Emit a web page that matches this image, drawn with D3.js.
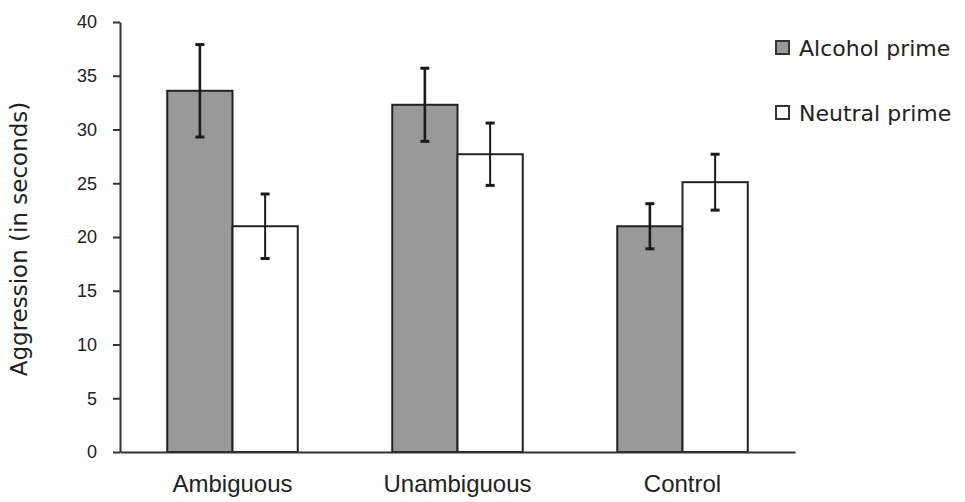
<!DOCTYPE html>
<meta charset="utf-8">
<style>
    body {
        margin: 0;
        background-color: #fff;
    }

    svg {
        display: block;
        font-family: "DejaVu Sans", sans-serif;
    }

    .eixo path,
    .eixo line {
        stroke: #333;
        stroke-width: 2px;
    }

    .eixo text {
        fill: #222;
    }
</style>
<script src="https://cdn.jsdelivr.net/npm/d3@7/dist/d3.min.js"></script>
<svg width="965" height="502"></svg>
<script>
    // condições e grupos
    var condicoes = ["Ambiguous", "Unambiguous", "Control"];
    var primes = ["Alcohol prime", "Neutral prime"];

    // médias (segundos)
    var alcoolMedia = [33.6, 32.3, 21.0];
    var neutroMedia = [21.0, 27.7, 25.1];

    // erro (metade da barra de erro)
    var alcoolErro = [4.3, 3.4, 2.1];
    var neutroErro = [3.0, 2.9, 2.6];

    var yTicks = [0, 5, 10, 15, 20, 25, 30, 35, 40];

    var cores = ["#999999", "#ffffff"];

    var svg = d3.select("svg");
    var margem = { top: 22, right: 170, bottom: 50, left: 120 };
    var width = +svg.attr("width") - margem.left - margem.right,
        height = +svg.attr("height") - margem.top - margem.bottom;

    var g = svg.append("g")
        .attr("transform", "translate(" + margem.left + "," + margem.top + ")");

    var x0 = d3.scaleBand()
        .domain(condicoes)
        .range([0, width])
        .paddingInner(0.42)
        .paddingOuter(0.21);

    var x1 = d3.scaleBand()
        .domain(primes)
        .range([0, x0.bandwidth()]);

    var y = d3.scaleLinear()
        .domain([0, 40])
        .range([height, 0]);

    var dados = condicoes.map(function (c, i) {
        return [
            { cond: c, prime: primes[0], media: alcoolMedia[i], erro: alcoolErro[i] },
            { cond: c, prime: primes[1], media: neutroMedia[i], erro: neutroErro[i] }
        ];
    });

    // eixo y
    g.append("g")
        .attr("class", "eixo")
        .call(d3.axisLeft(y).tickValues(yTicks).tickSize(7).tickPadding(16).tickSizeOuter(0))
        .selectAll("text")
        .style("font-size", "18px");

    var grupo = g.selectAll(".grupo")
        .data(dados)
        .enter().append("g")
        .attr("class", "grupo")
        .attr("transform", function (d) { return "translate(" + x0(d[0].cond) + ",0)"; });

    grupo.selectAll("rect")
        .data(function (d) { return d; })
        .enter().append("rect")
        .attr("x", function (d) { return x1(d.prime); })
        .attr("y", function (d) { return y(d.media); })
        .attr("width", x1.bandwidth())
        .attr("height", function (d) { return height - y(d.media); })
        .style("fill", function (d, i) { return cores[i]; })
        .style("stroke", "#222")
        .style("stroke-width", 2);

    // barras de erro
    var erro = grupo.selectAll(".erro")
        .data(function (d) { return d; })
        .enter().append("g")
        .attr("class", "erro")
        .attr("transform", function (d) { return "translate(" + (x1(d.prime) + x1.bandwidth() / 2) + ",0)"; })
        .style("stroke", "#1a1a1a")
        .style("stroke-width", function (d, i) { return i == 0 ? 2.6 : 2; });

    erro.append("line")
        .attr("y1", function (d) { return y(d.media + d.erro); })
        .attr("y2", function (d) { return y(d.media - d.erro); });

    erro.selectAll(".cap")
        .data(function (d) { return [d.media + d.erro, d.media - d.erro]; })
        .enter().append("line")
        .attr("x1", -4.5)
        .attr("x2", 4.5)
        .attr("y1", function (v) { return y(v); })
        .attr("y2", function (v) { return y(v); })
        .style("stroke-width", 3);

    // eixo x
    var eixoX = g.append("g")
        .attr("class", "eixo")
        .attr("transform", "translate(0," + height + ")")
        .call(d3.axisBottom(x0).tickSize(0).tickPadding(23));
    eixoX.selectAll("text").style("font-size", "24px");

    // título do eixo y
    svg.append("text")
        .attr("transform", "translate(27,239) rotate(-90)")
        .attr("text-anchor", "middle")
        .style("font-size", "23px")
        .style("fill", "#222")
        .text("Aggression (in seconds)");

    // legenda
    var legenda = svg.selectAll(".legenda")
        .data(primes)
        .enter().append("g")
        .attr("class", "legenda")
        .attr("transform", function (d, i) { return "translate(776," + (41 + i * 65) + ")"; });

    legenda.append("rect")
        .attr("width", 13)
        .attr("height", 13)
        .style("fill", function (d, i) { return cores[i]; })
        .style("stroke", "#333")
        .style("stroke-width", 2);

    legenda.append("text")
        .attr("x", 23)
        .attr("y", 15)
        .style("font-size", "22px")
        .style("fill", "#222")
        .text(function (d) { return d; });
</script>
